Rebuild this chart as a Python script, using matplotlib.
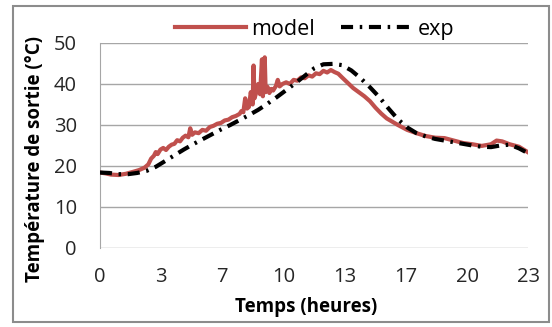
import matplotlib
matplotlib.use('Agg')
import matplotlib.pyplot as plt
from matplotlib.patches import Rectangle

# outlet temperature over the day: simulated vs. measured
model_t = [0.0, 0.3, 0.6, 1.0, 1.4, 1.8, 2.1, 2.4, 2.6, 2.75, 2.9, 3.0, 3.1, 3.25,
           3.4, 3.55, 3.7, 3.85, 4.0, 4.15, 4.3, 4.45, 4.6, 4.75, 4.85, 4.95, 5.1,
           5.3, 5.5, 5.7, 5.9, 6.1, 6.3, 6.5, 6.7, 6.9, 7.1, 7.3, 7.5, 7.6, 7.7,
           7.8, 7.9, 8.0, 8.1, 8.2, 8.25, 8.3, 8.4, 8.5, 8.6, 8.7, 8.75, 8.85, 8.9,
           9.0, 9.1, 9.2, 9.3, 9.45, 9.55, 9.65, 9.8, 10.0, 10.2, 10.4, 10.6, 10.8,
           11.0, 11.2, 11.4, 11.6, 11.8, 12.0, 12.2, 12.4, 12.6, 12.8, 13.0, 13.3,
           13.6, 13.9, 14.2, 14.5, 14.8, 15.1, 15.4, 15.7, 16.0, 16.5, 17.0, 17.5,
           18.0, 18.5, 19.0, 19.5, 20.0, 20.5, 21.0, 21.3, 21.6, 22.0, 22.5, 23.0]
model_T = [18.4, 18.2, 17.9, 17.8, 18.1, 18.6, 19.0, 19.6, 20.4, 21.8, 22.5, 23.4,
           22.9, 24.0, 24.4, 23.9, 24.7, 25.2, 25.4, 26.3, 26.0, 26.9, 27.4, 27.0,
           29.2, 27.6, 28.2, 28.0, 28.8, 28.6, 29.5, 29.8, 30.3, 30.5, 31.1, 31.3,
           31.9, 32.2, 32.7, 33.4, 33.1, 36.5, 34.0, 34.4, 38.0, 35.0, 44.5, 36.5,
           38.0, 40.0, 37.5, 46.0, 37.0, 46.5, 38.0, 39.3, 37.8, 38.8, 38.4, 39.5,
           41.0, 39.4, 40.0, 40.4, 40.0, 41.0, 40.8, 41.6, 41.4, 42.1, 41.8, 42.6,
           42.4, 43.2, 42.8, 43.4, 42.9, 42.5, 41.6, 40.3, 39.0, 38.0, 37.0, 35.8,
           34.2, 32.8, 31.6, 30.8, 30.0, 28.8, 28.0, 27.3, 26.9, 26.8, 26.2, 25.6,
           25.3, 24.9, 25.3, 26.2, 26.0, 25.3, 24.7, 23.3]

exp_t = [0.0, 0.5, 1.0, 1.5, 2.0, 2.5, 3.0, 3.5, 4.0, 4.5, 5.0, 5.5, 6.0, 6.5,
         7.0, 7.5, 8.0, 8.5, 9.0, 9.5, 10.0, 10.5, 11.0, 11.5, 12.0, 12.5, 13.0,
         13.5, 14.0, 14.5, 15.0, 15.5, 16.0, 16.5, 17.0, 17.5, 18.0, 18.5, 19.0,
         19.5, 20.0, 20.5, 21.0, 21.5, 22.0, 22.5, 23.0]
exp_T = [18.4, 18.3, 18.0, 18.0, 18.3, 18.8, 19.8, 21.2, 22.6, 24.0, 25.3, 26.5,
         27.7, 28.9, 30.0, 31.2, 32.4, 33.7, 35.2, 36.8, 38.5, 40.2, 42.0, 43.8,
         44.8, 44.9, 44.6, 43.3, 41.4, 39.2, 36.8, 34.0, 31.4, 29.4, 28.0, 27.2,
         26.6, 26.2, 25.8, 25.4, 25.0, 24.7, 24.6, 25.0, 25.2, 24.3, 23.1]

x_ticks = [0, 23 / 7, 46 / 7, 69 / 7, 92 / 7, 115 / 7, 138 / 7, 23]
x_labels = ['0', '3', '7', '10', '13', '17', '20', '23']
y_ticks = [0, 10, 20, 30, 40, 50]

plt.rcParams['font.family'] = ['Open Sans', 'DejaVu Sans']

fig = plt.figure(figsize=(5.52, 3.27), dpi=100)
ax = fig.add_axes([0.181, 0.2416, 0.776, 0.627])

ax.plot(model_t, model_T, color='#c0504d', lw=3, label='model', zorder=3)
ax.plot(exp_t, exp_T, color='black', lw=3, ls=(0, (2.9, 1.6, 0.6, 1.6)),
        label='exp', zorder=4)

ax.set_xlim(0, 23)
ax.set_ylim(0, 50)
ax.set_xticks(x_ticks)
ax.set_xticklabels(x_labels)
ax.set_yticks(y_ticks)
ax.tick_params(length=0, labelsize=14.5, colors='#262626')
ax.tick_params(axis='x', pad=14)
ax.tick_params(axis='y', pad=16.5)
ax.yaxis.grid(True, color='#a6a6a6', lw=1)
ax.set_axisbelow(True)
for s in ['top', 'right', 'bottom']:
    ax.spines[s].set_visible(False)
ax.spines['left'].set_color('#a6a6a6')

ax.set_xlabel('Temps (heures)', fontsize=13.5, fontweight='bold')
ax.xaxis.label.set_verticalalignment('center')
ax.xaxis.set_label_coords(0.481, -0.288)
ax.set_ylabel('Température de sortie (°C)', fontsize=13.5, fontweight='bold')
ax.yaxis.label.set_verticalalignment('center')
ax.yaxis.set_label_coords(-0.152, 0.434)

fig.legend(loc='center', bbox_to_anchor=(0.57, 0.911), ncol=2, frameon=False,
           fontsize=15.5, handlelength=3.3, columnspacing=1.2, handletextpad=0.25)

fig.patches.append(Rectangle((0.023, 0.015), 0.972, 0.967, transform=fig.transFigure,
                             fill=False, edgecolor='#8c8c8c', lw=1.5))

fig.savefig('out.png', dpi=100)
